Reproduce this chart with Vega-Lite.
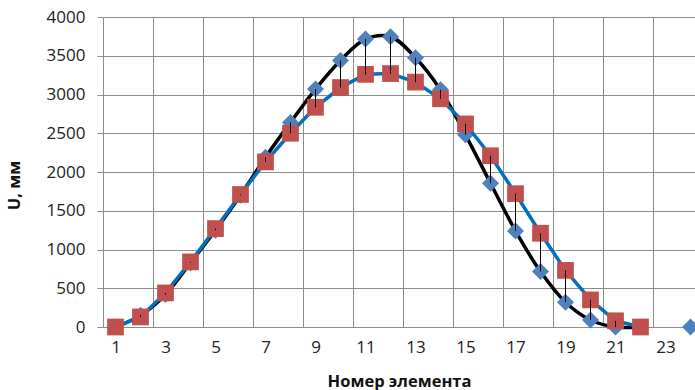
{
  "$schema": "https://vega.github.io/schema/vega-lite/v6.json",
  "width": 592,
  "height": 310,
  "autosize": {"type": "none"},
  "padding": {"left": 103, "top": 17, "right": 0, "bottom": 63},
  "background": "white",
  "config": {
    "view": {"stroke": null},
    "font": "Open Sans",
    "axis": {
      "labelFont": "Open Sans",
      "labelFontSize": 17,
      "labelColor": "#222222",
      "labelOverlap": false,
      "titleFont": "Open Sans",
      "titleFontWeight": "bold",
      "titleFontSize": 16.5,
      "titleColor": "#111111",
      "gridColor": "#8c8c8c",
      "gridWidth": 1,
      "gridOpacity": 1,
      "tickColor": "#8c8c8c"
    }
  },
  "data": {
    "values": [
      {"x": 1, "a": 0, "b": 0},
      {"x": 2, "a": 150, "b": 130},
      {"x": 3, "a": 420, "b": 440},
      {"x": 4, "a": 830, "b": 840},
      {"x": 5, "a": 1250, "b": 1270},
      {"x": 6, "a": 1700, "b": 1710},
      {"x": 7, "a": 2190, "b": 2130},
      {"x": 8, "a": 2640, "b": 2500},
      {"x": 9, "a": 3070, "b": 2835},
      {"x": 10, "a": 3440, "b": 3090},
      {"x": 11, "a": 3715, "b": 3260},
      {"x": 12, "a": 3745, "b": 3270},
      {"x": 13, "a": 3475, "b": 3160},
      {"x": 14, "a": 3060, "b": 2945},
      {"x": 15, "a": 2480, "b": 2620},
      {"x": 16, "a": 1855, "b": 2210},
      {"x": 17, "a": 1240, "b": 1720},
      {"x": 18, "a": 715, "b": 1210},
      {"x": 19, "a": 320, "b": 730},
      {"x": 20, "a": 90, "b": 350},
      {"x": 21, "a": 0, "b": 80},
      {"x": 22, "a": 0, "b": 0},
      {"x": 23, "a": null, "b": null},
      {"x": 24, "a": 0, "b": null}
    ]
  },
  "encoding": {
    "x": {
      "field": "x",
      "type": "quantitative",
      "scale": {"domain": [0.5, 24.18], "nice": false, "zero": false},
      "axis": {
        "values": [0.5, 1, 2.5, 3, 4.5, 5, 6.5, 7, 8.5, 9, 10.5, 11, 12.5, 13, 14.5, 15, 16.5, 17, 18.5, 19, 20.5, 21, 22.5, 23],
        "labelExpr": "datum.value % 1 == 0 ? datum.label : ''",
        "gridOpacity": {"condition": {"test": "datum.value % 1 != 0", "value": 1}, "value": 0},
        "grid": true,
        "ticks": false,
        "domain": false,
        "labelPadding": 12,
        "title": "Номер элемента",
        "titlePadding": 18
      }
    },
    "y": {
      "field": "a",
      "type": "quantitative",
      "scale": {"domain": [0, 4000], "nice": false},
      "axis": {
        "values": [0, 500, 1000, 1500, 2000, 2500, 3000, 3500, 4000],
        "format": "d",
        "grid": true,
        "tickSize": 6,
        "domain": false,
        "labelPadding": 12,
        "labelOverlap": false,
        "labelBound": false,
        "title": "U, мм",
        "titleX": -81,
        "titleY": 168
      }
    }
  },
  "layer": [
    {
      "mark": {"type": "line", "color": "#000000", "strokeWidth": 3.5, "interpolate": "catmull-rom"}
    },
    {
      "mark": {"type": "point", "shape": "diamond", "filled": true, "color": "#4F81BD", "opacity": 1, "size": 290}
    },
    {
      "mark": {"type": "line", "color": "#0070C0", "strokeWidth": 3.5},
      "encoding": {"y": {"field": "b", "type": "quantitative"}}
    },
    {
      "mark": {"type": "point", "shape": "square", "filled": true, "color": "#C0504D", "opacity": 1, "size": 280},
      "encoding": {"y": {"field": "b", "type": "quantitative"}}
    },
    {
      "transform": [{"filter": "isValid(datum.a) && isValid(datum.b)"}],
      "mark": {"type": "rule", "color": "#000000", "strokeWidth": 1},
      "encoding": {
        "y2": {"field": "b"}
      }
    }
  ]
}
